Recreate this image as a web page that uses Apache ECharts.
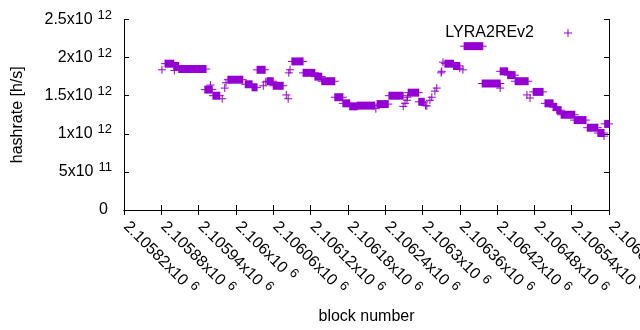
<!DOCTYPE html>
<html>
<head>
<meta charset="utf-8">
<script src="https://cdn.jsdelivr.net/npm/echarts@6/dist/echarts.min.js"></script>
<style>
  html, body { margin: 0; padding: 0; background: #fff; }
  #chart { width: 640px; height: 330px; }
</style>
</head>
<body>
<div id="chart"></div>
<script>
// runs of blocks sharing one hashrate value (a run of length 0 is one point)
const runStart = [
  2105881, 2105886, 2105900, 2105901, 2105908, 2105950, 2105959, 2105963, 2105978, 2105982,
  2105984, 2105987, 2106015, 2106026, 2106034, 2106044, 2106048, 2106050, 2106060, 2106081,
  2106084, 2106085, 2106087, 2106090, 2106108, 2106127, 2106138, 2106159, 2106172, 2106183,
  2106195, 2106225, 2106227, 2106246, 2106269, 2106272, 2106275, 2106276, 2106277, 2106294,
  2106305, 2106307, 2106312, 2106315, 2106320, 2106323, 2106330, 2106331, 2106333, 2106336,
  2106350, 2106360, 2106365, 2106367, 2106396, 2106425, 2106425, 2106437, 2106449, 2106468,
  2106473, 2106478, 2106497, 2106510, 2106516, 2106523, 2106544, 2106565, 2106582, 2106592,
  2106593
]
const runEnd = [
  2105881, 2105900, 2105908, 2105901, 2105952, 2105962, 2105959, 2105974, 2105978, 2105982,
  2105984, 2106011, 2106026, 2106034, 2106047, 2106044, 2106048, 2106060, 2106076, 2106081,
  2106084, 2106085, 2106087, 2106108, 2106127, 2106138, 2106159, 2106172, 2106183, 2106195,
  2106223, 2106225, 2106245, 2106269, 2106269, 2106272, 2106275, 2106276, 2106294, 2106303,
  2106305, 2106307, 2106312, 2106315, 2106320, 2106323, 2106330, 2106331, 2106333, 2106350,
  2106360, 2106360, 2106365, 2106397, 2106425, 2106425, 2106437, 2106449, 2106470, 2106468,
  2106473, 2106494, 2106510, 2106516, 2106523, 2106545, 2106563, 2106582, 2106592, 2106592,
  2106600
]
const runHashrate = [
  1.84e12, 1.92e12, 1.89e12, 1.83e12, 1.85e12, 1.58e12, 1.64e12, 1.50e12, 1.46e12, 1.60e12,
  1.67e12, 1.71e12, 1.65e12, 1.61e12, 1.84e12, 1.63e12, 1.68e12, 1.69e12, 1.63e12, 1.51e12,
  1.46e12, 1.80e12, 1.84e12, 1.95e12, 1.80e12, 1.75e12, 1.69e12, 1.48e12, 1.40e12, 1.36e12,
  1.37e12, 1.33e12, 1.39e12, 1.50e12, 1.36e12, 1.40e12, 1.44e12, 1.48e12, 1.54e12, 1.42e12,
  1.37e12, 1.365e12, 1.44e12, 1.48e12, 1.56e12, 1.60e12, 1.80e12, 1.82e12, 1.94e12, 1.92e12,
  1.89e12, 1.86e12, 1.84e12, 2.15e12, 1.66e12, 1.60e12, 1.82e12, 1.77e12, 1.69e12, 1.51e12,
  1.47e12, 1.55e12, 1.40e12, 1.35e12, 1.31e12, 1.25e12, 1.18e12, 1.08e12, 1.01e12, 0.97e12,
  1.13e12
]

// tick labels (mantissa + exponent)
const xTickMant = ['2.10582', '2.10588', '2.10594', '2.106', '2.10606', '2.10612', '2.10618',
  '2.10624', '2.1063', '2.10636', '2.10642', '2.10648', '2.10654', '2.1066']
const xTickExp = '6'
const yTickMant = ['0', '5', '1', '1.5', '2', '2.5']
const yTickExp = ['', '11', '12', '12', '12', '12']

const seriesName = 'LYRA2REv2'
const purple = '#9400D3'
const font = 'Liberation Sans'
const plusPath = 'path://M3.5,0h1v3.5h3.5v1h-3.5v3.5h-1v-3.5h-3.5v-1h3.5z'

const chart = echarts.init(document.getElementById('chart'))

const runs = runStart.map((s, i) => [s, runEnd[i], runHashrate[i]])

// superscript labels like 2x10^12
const yRich = {
  m: { fontSize: 16, fontFamily: font, color: '#000', lineHeight: 22 },
  e: { fontSize: 13, fontFamily: font, color: '#000', lineHeight: 16, verticalAlign: 'top', padding: [0, 0, 0, 5] },
  z: { fontSize: 16, fontFamily: font, color: '#000', lineHeight: 22, padding: [0, 4, 0, 0] }
}
const xRich = {
  m: { fontSize: 16, fontFamily: font, color: '#000', lineHeight: 22, padding: [0, 0, 0, 3] },
  e: { fontSize: 13, fontFamily: font, color: '#000', lineHeight: 16, verticalAlign: 'top', padding: [0, 0, 0, 5] }
}

const xRange = { type: 'value', min: 2105820, max: 2106600, interval: 60 }
const yRange = { type: 'value', min: 0, max: 2.5e12, interval: 5e11 }
const lineStyle = { color: '#000', width: 1 }

const option = {
  animation: false,
  color: [purple],
  grid: { left: 124, right: 31, top: 19.5, bottom: 120, outerBoundsMode: 'none' },
  legend: {
    data: [{ name: seriesName, icon: plusPath }],
    right: 68,
    top: 25,
    padding: 0,
    align: 'right',
    itemWidth: 58,
    itemHeight: 8,
    itemGap: 5,
    textStyle: { fontSize: 16, fontFamily: font, color: '#000' }
  },
  xAxis: [
    Object.assign({}, xRange, {
      position: 'bottom',
      name: 'block number',
      nameLocation: 'middle',
      nameGap: 99,
      nameTextStyle: { fontSize: 16, fontFamily: font, color: '#000' },
      axisLine: { show: true, lineStyle },
      axisTick: { inside: true, length: 5, lineStyle },
      splitLine: { show: false },
      axisLabel: {
        rotate: -45,
        margin: 12,
        formatter: (v, i) => '{m|' + xTickMant[i] + 'x10}{e|' + xTickExp + '}',
        rich: xRich
      }
    }),
    Object.assign({}, xRange, {
      position: 'top',
      axisLine: { show: true, lineStyle },
      axisTick: { inside: true, length: 5, lineStyle },
      axisLabel: { show: false },
      splitLine: { show: false }
    })
  ],
  yAxis: [
    Object.assign({}, yRange, {
      position: 'left',
      name: 'hashrate [h/s]',
      nameLocation: 'middle',
      nameGap: 98,
      nameTextStyle: { fontSize: 16, fontFamily: font, color: '#000' },
      axisLine: { show: true, lineStyle },
      axisTick: { inside: true, length: 5, lineStyle },
      splitLine: { show: false },
      axisLabel: {
        margin: 12,
        formatter: (v, i) => yTickExp[i] ? '{m|' + yTickMant[i] + 'x10}{e|' + yTickExp[i] + '}' : '{z|' + yTickMant[i] + '}',
        rich: yRich
      }
    }),
    Object.assign({}, yRange, {
      position: 'right',
      axisLine: { show: true, lineStyle },
      axisTick: { inside: true, length: 5, lineStyle },
      axisLabel: { show: false },
      splitLine: { show: false }
    })
  ],
  series: [
    {
      name: seriesName,
      type: 'custom',
      xAxisIndex: 0,
      yAxisIndex: 0,
      encode: { x: [0, 1], y: 2 },
      data: runs,
      renderItem: (params, api) => {
        const a = api.coord([api.value(0), api.value(2)])
        const b = api.coord([api.value(1), api.value(2)])
        const h = 4
        return {
          type: 'group',
          children: [
            {
              type: 'rect',
              shape: { x: a[0] - 0.5, y: a[1] - h, width: b[0] - a[0] + 1, height: 2 * h },
              style: { fill: purple }
            },
            {
              type: 'rect',
              shape: { x: a[0] - h, y: a[1] - 0.5, width: b[0] - a[0] + 2 * h, height: 1 },
              style: { fill: purple }
            }
          ]
        }
      }
    }
  ]
}

chart.setOption(option)
</script>
</body>
</html>
